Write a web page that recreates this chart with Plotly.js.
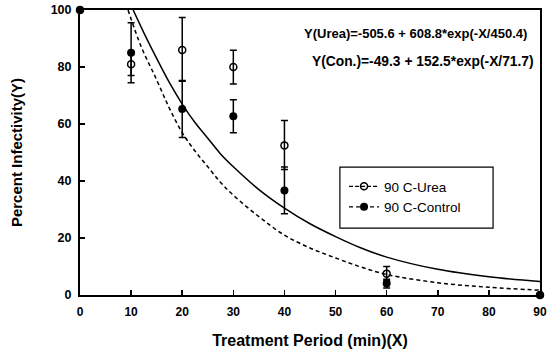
<!DOCTYPE html>
<html>
<head>
<meta charset="utf-8">
<script src="https://cdn.plot.ly/plotly-3.0.1.min.js"></script>
<style>html,body{margin:0;padding:0;background:#fff;}#chart{width:552px;height:351px;}</style>
</head>
<body>
<div id="chart"></div>
<script>
// Measured data points
const timeX = [0, 10, 20, 30, 40, 60, 90];
const ureaY = [100, 81, 86, 80, 52.5, 7.5, 0];
const ureaErrPlus = [0, 4, 11.4, 5.9, 8.7, 2.5, 0];
const ureaErrMinus = [0, 4, 11, 6, 8.5, 2.5, 0];
const controlY = [100, 85, 65.3, 62.7, 36.7, 4, 0];
const controlErr = [0, 10.5, 10, 5.8, 8.2, 1.5, 0];

// Fitted curves
const ureaFitX = [10.4, 12.5, 15, 17.5, 20, 22.5, 25, 27.5, 30, 35, 40, 45, 50, 55, 60, 70, 80, 90];
const ureaFitY = [100, 92, 83, 74.5, 67, 60.5, 55, 49.5, 45, 37, 30.5, 25, 20.5, 16.5, 13.3, 9, 6.4, 4.7];
const conFitX = [9.4, 12, 15, 17.5, 20, 22.5, 25, 27.5, 30, 35, 40, 45, 50, 55, 60, 70, 80, 90];
const conFitY = [100, 87, 75.5, 65.5, 57, 50.5, 45, 39.5, 35, 27.5, 21, 16.5, 13, 9.8, 7.2, 4.3, 2.7, 1.7];

const xTicks = [0, 10, 20, 30, 40, 50, 60, 70, 80, 90];
const yTicks = [0, 20, 40, 60, 80, 100];
const legendNames = ['90 C-Urea', '90 C-Control'];
const eqUrea = 'Y(Urea)=-505.6 + 608.8*exp(-X/450.4)';
const eqCon = 'Y(Con.)=-49.3 + 152.5*exp(-X/71.7)';

const FONT = 'Liberation Sans, Arial, Helvetica, sans-serif';

const traces = [
  {x: ureaFitX, y: ureaFitY, mode: 'lines', line: {color: '#000', width: 1.5, shape: 'spline'}, showlegend: false, hoverinfo: 'skip'},
  {x: conFitX, y: conFitY, mode: 'lines', line: {color: '#000', width: 1.5, dash: '4px,3px', shape: 'spline'}, showlegend: false, hoverinfo: 'skip'},
  {x: timeX, y: ureaY, mode: 'markers', cliponaxis: false, showlegend: false,
   marker: {symbol: 'circle-open', size: 7, color: '#000', line: {width: 1.5}},
   error_y: {type: 'data', symmetric: false, array: ureaErrPlus, arrayminus: ureaErrMinus, color: '#000', thickness: 1.5, width: 3.5}},
  {x: timeX, y: controlY, mode: 'markers', cliponaxis: false, showlegend: false,
   marker: {symbol: 'circle', size: 8, color: '#000'},
   error_y: {type: 'data', array: controlErr, color: '#000', thickness: 1.5, width: 3.5}},
  {x: [null], y: [null], mode: 'lines+markers', name: legendNames[0],
   line: {color: '#000', width: 1.2, dash: '4px,2px'},
   marker: {symbol: 'circle-open', size: 7, color: '#000', line: {width: 1.5}}},
  {x: [null], y: [null], mode: 'lines+markers', name: legendNames[1],
   line: {color: '#000', width: 1.2, dash: '4px,3px'},
   marker: {symbol: 'circle', size: 8, color: '#000'}}
];

const layout = {
  width: 552, height: 351,
  margin: {l: 80, r: 12, t: 10, b: 56},
  paper_bgcolor: '#fff', plot_bgcolor: '#fff',
  font: {family: FONT, color: '#000'},
  showlegend: true,
  legend: {x: 0.574, y: 0.435, xanchor: 'left', yanchor: 'top',
           borderwidth: 0, bgcolor: 'rgba(0,0,0,0)',
           font: {family: FONT, size: 13.5, color: '#000'}, itemwidth: 30},
  shapes: [
    {type: 'rect', xref: 'paper', yref: 'paper', x0: 0.565, x1: 0.898, y0: 0.235, y1: 0.449,
     line: {color: '#000', width: 1.2}, fillcolor: 'rgba(0,0,0,0)', layer: 'above'}
  ],
  xaxis: {range: [0, 90], tickvals: xTicks, ticktext: xTicks.map(String),
          ticks: 'inside', ticklen: 5, tickwidth: 1.5, tickcolor: '#000', ticklabelstandoff: 5,
          showline: true, linecolor: '#000', linewidth: 2, mirror: true,
          showgrid: false, zeroline: false,
          tickfont: {family: FONT, size: 12, color: '#000', weight: 'bold'},
          title: {text: 'Treatment Period (min)(X)', standoff: 16,
                  font: {family: FONT, size: 16, color: '#000', weight: 'bold'}}},
  yaxis: {range: [0, 100], tickvals: yTicks, ticktext: yTicks.map(String),
          ticks: 'inside', ticklen: 5, tickwidth: 1.5, tickcolor: '#000', ticklabelstandoff: 4,
          showline: true, linecolor: '#000', linewidth: 2, mirror: true,
          showgrid: false, zeroline: false,
          tickfont: {family: FONT, size: 12.5, color: '#000', weight: 'bold'},
          title: {text: 'Percent Infectivity(Y)', standoff: 24,
                  font: {family: FONT, size: 15, color: '#000', weight: 'bold'}}},
  annotations: [
    {xref: 'paper', yref: 'paper', x: 0.975, y: 0.919, xanchor: 'right', yanchor: 'middle',
     text: eqUrea, showarrow: false, font: {family: FONT, size: 13, color: '#000', weight: 'bold'}},
    {xref: 'paper', yref: 'paper', x: 0.992, y: 0.821, xanchor: 'right', yanchor: 'middle',
     text: eqCon, showarrow: false, font: {family: FONT, size: 13.8, color: '#000', weight: 'bold'}}
  ]
};

Plotly.newPlot('chart', traces, layout, {displayModeBar: false, staticPlot: true});
</script>
</body>
</html>
